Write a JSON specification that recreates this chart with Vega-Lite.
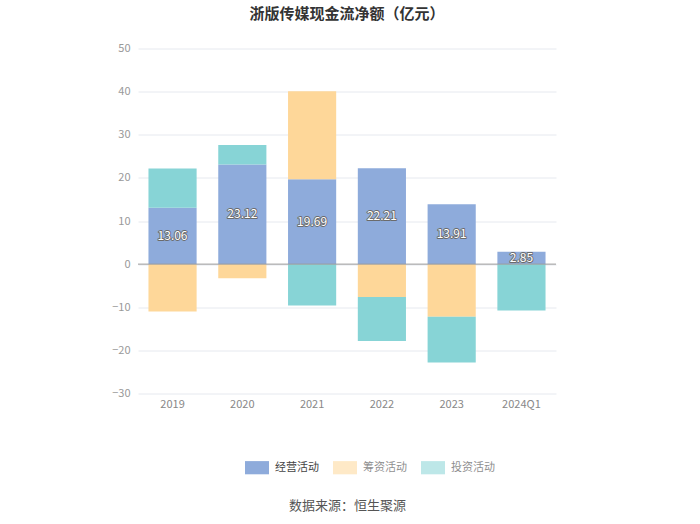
{
  "$schema": "https://vega.github.io/schema/vega-lite/v6.json",
  "width": 418,
  "height": 345,
  "autosize": {"type": "none"},
  "padding": {"left": 138, "top": 48.5, "right": 144, "bottom": 130},
  "background": "white",
  "config": {
    "font": "Noto Sans CJK SC",
    "view": {"stroke": null}
  },
  "title": {
    "text": "浙版传媒现金流净额（亿元）",
    "fontSize": 15,
    "fontWeight": "bold",
    "color": "#333333",
    "anchor": "middle",
    "offset": 21
  },
  "data": {
    "values": [
      {"year": "2019", "type": "经营活动", "order": 1, "value": 13.06},
      {"year": "2019", "type": "筹资活动", "order": 2, "value": -11.0},
      {"year": "2019", "type": "投资活动", "order": 3, "value": 9.1},
      {"year": "2020", "type": "经营活动", "order": 1, "value": 23.12},
      {"year": "2020", "type": "筹资活动", "order": 2, "value": -3.3},
      {"year": "2020", "type": "投资活动", "order": 3, "value": 4.5},
      {"year": "2021", "type": "经营活动", "order": 1, "value": 19.69},
      {"year": "2021", "type": "筹资活动", "order": 2, "value": 20.4},
      {"year": "2021", "type": "投资活动", "order": 3, "value": -9.6},
      {"year": "2022", "type": "经营活动", "order": 1, "value": 22.21},
      {"year": "2022", "type": "筹资活动", "order": 2, "value": -7.6},
      {"year": "2022", "type": "投资活动", "order": 3, "value": -10.2},
      {"year": "2023", "type": "经营活动", "order": 1, "value": 13.91},
      {"year": "2023", "type": "筹资活动", "order": 2, "value": -12.2},
      {"year": "2023", "type": "投资活动", "order": 3, "value": -10.6},
      {"year": "2024Q1", "type": "经营活动", "order": 1, "value": 2.85},
      {"year": "2024Q1", "type": "筹资活动", "order": 2, "value": 0.0},
      {"year": "2024Q1", "type": "投资活动", "order": 3, "value": -10.75}
    ]
  },
  "encoding": {
    "x": {
      "field": "year",
      "type": "nominal",
      "sort": null,
      "scale": {"paddingInner": 0.31, "paddingOuter": 0.15},
      "axis": {
        "title": "数据来源：恒生聚源",
        "titleFontSize": 13,
        "titleFontWeight": "normal",
        "titleColor": "#555555",
        "titlePadding": 90,
        "labelAngle": 0,
        "labelColor": "#888888",
        "labelFontSize": 11,
        "labelPadding": 5,
        "ticks": false,
        "domain": false
      }
    }
  },
  "layer": [
    {
      "mark": {"type": "bar"},
      "encoding": {
        "y": {
          "field": "value",
          "type": "quantitative",
          "stack": "zero",
          "scale": {"domain": [-30, 50], "nice": false},
          "axis": {
            "title": null,
            "values": [-30, -20, -10, 0, 10, 20, 30, 40, 50],
            "labelColor": "#999999",
            "labelFontSize": 11,
            "labelPadding": 8,
            "ticks": false,
            "domain": false,
            "gridColor": "#e6e9ef",
            "gridWidth": 1
          }
        },
        "color": {
          "field": "type",
          "type": "nominal",
          "scale": {
            "domain": ["经营活动", "筹资活动", "投资活动"],
            "range": ["#8eabdb", "#fed799", "#87d4d6"]
          },
          "legend": {
            "title": null,
            "orient": "none",
            "legendX": 107,
            "legendY": 407,
            "direction": "horizontal",
            "symbolType": "M-1,-0.55L1,-0.55L1,0.55L-1,0.55Z",
            "symbolSize": 576,
            "symbolStrokeWidth": 0,
            "labelFontSize": 11,
            "labelColor": "#444444",
            "labelOffset": 6,
            "columnPadding": 14,
            "encode": {
              "symbols": {"update": {"opacity": {"signal": "datum.value === '经营活动' ? 1 : 0.55"}}},
              "labels": {"update": {"opacity": {"signal": "datum.value === '经营活动' ? 1 : 0.6"}}}
            }
          }
        },
        "order": {"field": "order", "type": "quantitative"}
      }
    },
    {
      "data": {"values": [{"zero": 0}]},
      "mark": {"type": "rule", "color": "#999999", "strokeWidth": 1},
      "encoding": {"y": {"field": "zero", "type": "quantitative"}, "x": {"value": 0}, "x2": {"value": 418}}
    },
    {
      "transform": [
        {"filter": "datum.type === '经营活动'"},
        {"calculate": "datum.value / 2", "as": "mid"}
      ],
      "mark": {"type": "text", "fontSize": 12, "stroke": "#6b6b6b", "strokeWidth": 1.8, "fill": "#6b6b6b", "strokeJoin": "round"},
      "encoding": {
        "y": {"field": "mid", "type": "quantitative"},
        "text": {"field": "value", "type": "quantitative", "format": ".2f"}
      }
    },
    {
      "transform": [
        {"filter": "datum.type === '经营活动'"},
        {"calculate": "datum.value / 2", "as": "mid"}
      ],
      "mark": {"type": "text", "fontSize": 12, "fill": "white"},
      "encoding": {
        "y": {"field": "mid", "type": "quantitative"},
        "text": {"field": "value", "type": "quantitative", "format": ".2f"}
      }
    }
  ]
}
